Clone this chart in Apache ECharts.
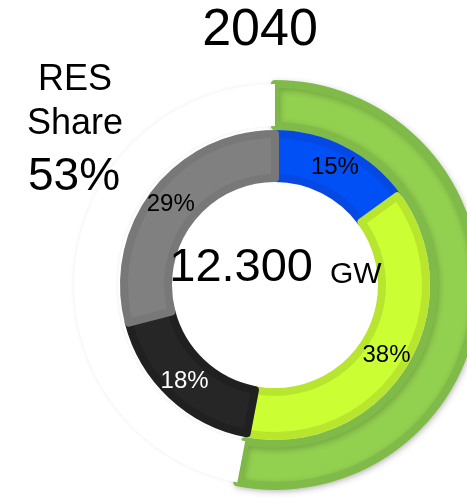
<!DOCTYPE html>
<html>
<head>
<meta charset="utf-8">
<script src="https://cdn.jsdelivr.net/npm/echarts@6/dist/echarts.min.js"></script>
<style>
html,body{margin:0;padding:0;background:#fff;}
#main{width:467px;height:502px;}
</style>
</head>
<body>
<div id="main"></div>
<script>
var year='2040';
var resShare=53;
var totalText='12.300';
var unitText='GW';
var mixNames=['Hydro','RES','Coal','Other'];
var mixValues=[15,38,18,29];
var mixColors=['#0050f5','#ccff33','#262626','#808080'];
var mixBorders=['#0549e2','#b8e52e','#202020','#787878'];
var mixLabelColors=['#000','#000','#fff','#000'];

function txt(x,y,s,size,align){
	return {type:'text',z:100,x:x,y:y,style:{text:s,font:size+'px "Liberation Sans", Arial',fill:'#000',align:align||'center',verticalAlign:'middle'}};
}

function init(){
	var myChart=echarts.init(document.getElementById('main'));
	var inner=[];
	for(var i=0;i<mixValues.length;i++){
		inner.push({
			value:mixValues[i],
			name:mixNames[i],
			itemStyle:{color:mixColors[i],borderColor:mixBorders[i]},
			label:{color:mixLabelColors[i]}
		});
	}
	var option={
		animation:false,
		graphic:[
			txt(260,31,year,52),
			txt(75,80,'RES',36),
			txt(75,124,'Share',36),
			txt(74,177,resShare+'%',46),
			txt(313,268,totalText,47,'right'),
			txt(330,275,unitText,30,'left')
		],
		series:[
			{
				type:'pie',
				center:[275,285],
				radius:[159,201],
				startAngle:90,
				silent:true,
				label:{show:false},
				labelLine:{show:false},
				data:[
					{value:resShare,name:'RES',itemStyle:{color:'#92d050',borderColor:'#80bb4a',borderWidth:8,shadowBlur:6,shadowColor:'rgba(0,0,0,0.22)',shadowOffsetX:1,shadowOffsetY:2}},
					{value:100-resShare,name:'Non-RES',itemStyle:{color:'#ffffff',borderWidth:0,shadowBlur:4,shadowColor:'rgba(0,0,0,0.08)'}}
				]
			},
			{
				type:'pie',
				center:[275,285],
				radius:[107,151],
				startAngle:90,
				silent:true,
				itemStyle:{borderWidth:8},
				label:{
					show:true,
					position:'inside',
					fontSize:24,
					fontFamily:'Liberation Sans',
					formatter:'{c}%'
				},
				labelLine:{show:false},
				data:inner
			}
		]
	};
	myChart.setOption(option);
}
init();
</script>
</body>
</html>
